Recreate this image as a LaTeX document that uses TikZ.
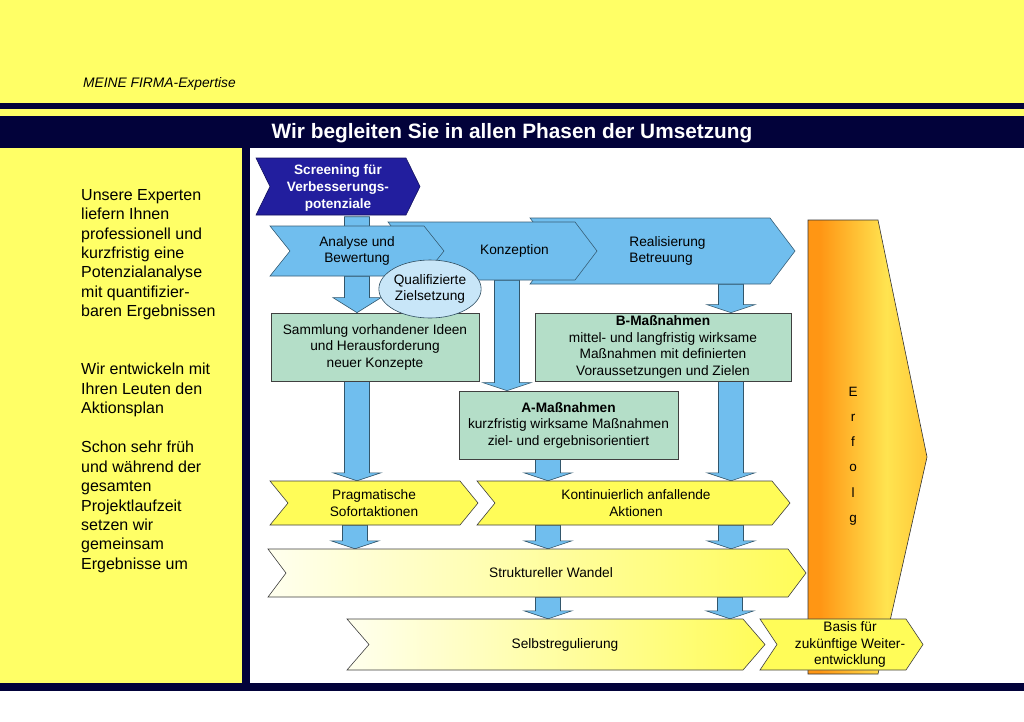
\documentclass[tikz,border=0pt]{standalone}
\usepackage{fontspec}
\setmainfont{Liberation Sans}
\usetikzlibrary{calc}
\usetikzlibrary{shapes.geometric}

\definecolor{bgyellow}{RGB}{255,255,102}
\definecolor{navy}{RGB}{2,2,58}
\definecolor{scrblue}{RGB}{34,30,158}
\definecolor{chevblue}{RGB}{112,190,238}
\definecolor{mint}{RGB}{180,222,200}
\definecolor{zielblue}{RGB}{200,230,248}
\definecolor{chevyellow}{RGB}{255,252,88}
\definecolor{paleyellow}{RGB}{255,255,238}
\definecolor{erfA}{RGB}{255,150,20}
\definecolor{erfB}{RGB}{255,228,80}
\definecolor{erfC}{RGB}{255,198,55}

\pgfdeclarehorizontalshading{erfolgshade}{100bp}{color(0bp)=(erfA); color(25bp)=(erfA); color(30bp)=(erfA); color(58bp)=(erfB); color(75bp)=(erfC); color(100bp)=(erfC)}

\pgfdeclarelayer{panel}
\pgfdeclarelayer{arrows}
\pgfsetlayers{panel,arrows,main}

% chevron: style, name, left, top, right, bottom, depth, node options, text
\newcommand{\chev}[9][]{%
	\draw[#1] (#3,#4) -- ({#5-#7},#4) -- (#5,{(#4+#6)/2}) -- ({#5-#7},#6)
		-- (#3,#6) -- ({#3+#7},{(#4+#6)/2}) -- cycle;
	\node[lbl, minimum width={(#5-#3)*1pt}, minimum height={(#6-#4)*1pt}, #8] (#2) at ({(#3+#5)/2},{(#4+#6)/2}) {#9};}

% block arrow: head length, x, from, to
\newcommand{\barrow}[4][8]{%
	\draw[blockarrow] let \p1=(#3), \p2=(#4) in
		({#2pt-12.5pt},{\y1}) -- ({#2pt-12.5pt},{\y2+#1pt}) -- ({#2pt-24pt},{\y2+#1pt}) -- ({#2pt},{\y2})
		-- ({#2pt+24pt},{\y2+#1pt}) -- ({#2pt+12.5pt},{\y2+#1pt}) -- ({#2pt+12.5pt},{\y1}) -- cycle;}

\begin{document}
\begin{tikzpicture}[x=1pt, y=-1pt,
	lbl/.style={align=center, inner sep=0pt, font=\fontsize{13.7}{16.5}\selectfont},
	infotext/.style={align=left, inner sep=0pt, anchor=north west, font=\fontsize{16}{19.4}\selectfont},
	bluechev/.style={fill=chevblue, draw=chevblue!50!black, line width=0.6pt},
	scrchev/.style={fill=scrblue, draw=scrblue!60!black, line width=0.6pt},
	ylwchev/.style={fill=chevyellow, draw=black!75, line width=0.6pt},
	paleychev/.style={left color=paleyellow, right color=chevyellow, draw=black!75, line width=0.6pt},
	greenbox/.style={lbl, rectangle, fill=mint, draw=black!75, line width=0.7pt},
	blockarrow/.style={fill=chevblue, draw=chevblue!45!black, line width=0.6pt}]
	\useasboundingbox (0,0) rectangle (1024,721);
	%page
	\begin{pgfonlayer}{panel}
		\fill[white] (0,0) rectangle (1024,721);
		\fill[bgyellow] (0,0) rectangle (1024,103);
		\fill[navy] (0,103) rectangle (1024,109);
		\fill[bgyellow] (0,109) rectangle (1024,116);
		\fill[navy] (0,116) rectangle (1024,148);
		\fill[bgyellow] (0,148) rectangle (242,683);
		\fill[navy] (242,148) rectangle (250,683);
		\fill[navy] (0,683) rectangle (1024,691);
	\end{pgfonlayer}
	\node[anchor=west, inner sep=0pt, font=\itshape\fontsize{13.8}{16}\selectfont] (firma) at (83,84) {MEINE FIRMA-Expertise};
	\node[text=white, font=\bfseries\fontsize{20.8}{24}\selectfont] (title) at (512,133) {Wir begleiten Sie in allen Phasen der Umsetzung};
	%left text
	\node[infotext] (info1) at (81,189) {Unsere Experten\\liefern Ihnen\\professionell und\\kurzfristig eine\\Potenzialanalyse\\mit quantifizier-\\baren Ergebnissen};
	\node[infotext] (info2) at (81,363) {Wir entwickeln mit\\Ihren Leuten den\\Aktionsplan};
	\node[infotext] (info3) at (81,441) {Schon sehr früh\\und während der\\gesamten\\Projektlaufzeit\\setzen wir\\gemeinsam\\Ergebnisse um};
	%Erfolg
	\draw[shade, shading=erfolgshade, draw=black!80, line width=0.6pt] (808,220) -- (878,220) -- (927,457) -- (878,674) -- (808,674) -- cycle;
	\node[lbl, font=\fontsize{13.5}{25.3}\selectfont] (erfolg) at (853,456) {E\\r\\f\\o\\l\\g};
	%phases
	\chev[bluechev]{real}{530}{218}{795}{284}{25}{xshift=5pt, align=left}{Realisierung\\Betreuung}
	\chev[bluechev]{konz}{388}{222}{597}{280}{22}{xshift=22pt}{Konzeption}
	\chev[bluechev]{ana}{270}{226}{444}{276}{20}{}{Analyse und\\Bewertung}
	\chev[scrchev]{screen}{256}{158}{420}{215}{14}{yshift=-1.5pt, text=white, font=\bfseries\fontsize{13.6}{17}\selectfont}{Screening für\\Verbesserungs-\\potenziale}
	%boxes
	\node[greenbox, minimum width=208pt, minimum height=68pt] (sam) at (375,347) {Sammlung vorhandener Ideen\\und Herausforderung\\neuer Konzepte};
	\node[greenbox, minimum width=256pt, minimum height=68pt] (bmass) at (663,347) {\textbf{B-Maßnahmen}\\mittel- und langfristig wirksame\\Maßnahmen mit definierten\\Voraussetzungen und Zielen};
	\node[greenbox, minimum width=219pt, minimum height=68pt] (amass) at (568.5,425) {\textbf{A-Maßnahmen}\\kurzfristig wirksame Maßnahmen\\ziel- und ergebnisorientiert};
	\node[lbl, ellipse, fill=zielblue, draw=chevblue!40!black, line width=0.6pt, minimum width=102pt, minimum height=58pt] (ziel) at (430,289) {Qualifizierte\\Zielsetzung};
	%actions
	\chev[ylwchev]{prag}{270}{481}{478}{525}{18}{}{Pragmatische\\Sofortaktionen}
	\chev[ylwchev]{kont}{477}{481}{790}{525}{18}{xshift=2.5pt}{Kontinuierlich anfallende\\Aktionen}
	\chev[paleychev]{strukt}{268}{549}{806}{597}{18}{xshift=14pt}{Struktureller Wandel}
	\chev[paleychev]{selbst}{347}{619}{765}{670}{22}{xshift=9pt}{Selbstregulierung}
	\chev[ylwchev]{basis}{760}{619}{923}{670}{17}{xshift=8.5pt}{Basis für\\zukünftige Weiter-\\entwicklung}
	%arrows
	\begin{pgfonlayer}{arrows}
		\barrow{357}{screen.south}{ana.center}
		\barrow[15]{357}{ana.south}{sam.north}
		\barrow{507}{konz.south}{amass.north}
		\barrow{731}{real.south}{bmass.north}
		\barrow{357}{sam.south}{prag.north}
		\barrow{731}{bmass.south}{kont.north}
		\barrow{548}{amass.south}{kont.north}
		\barrow{355}{prag.south}{strukt.north}
		\barrow{548}{kont.south}{strukt.north}
		\barrow{731}{kont.south}{strukt.north}
		\barrow{548}{strukt.south}{selbst.north}
		\barrow{730}{strukt.south}{selbst.north}
	\end{pgfonlayer}
\end{tikzpicture}
\end{document}
